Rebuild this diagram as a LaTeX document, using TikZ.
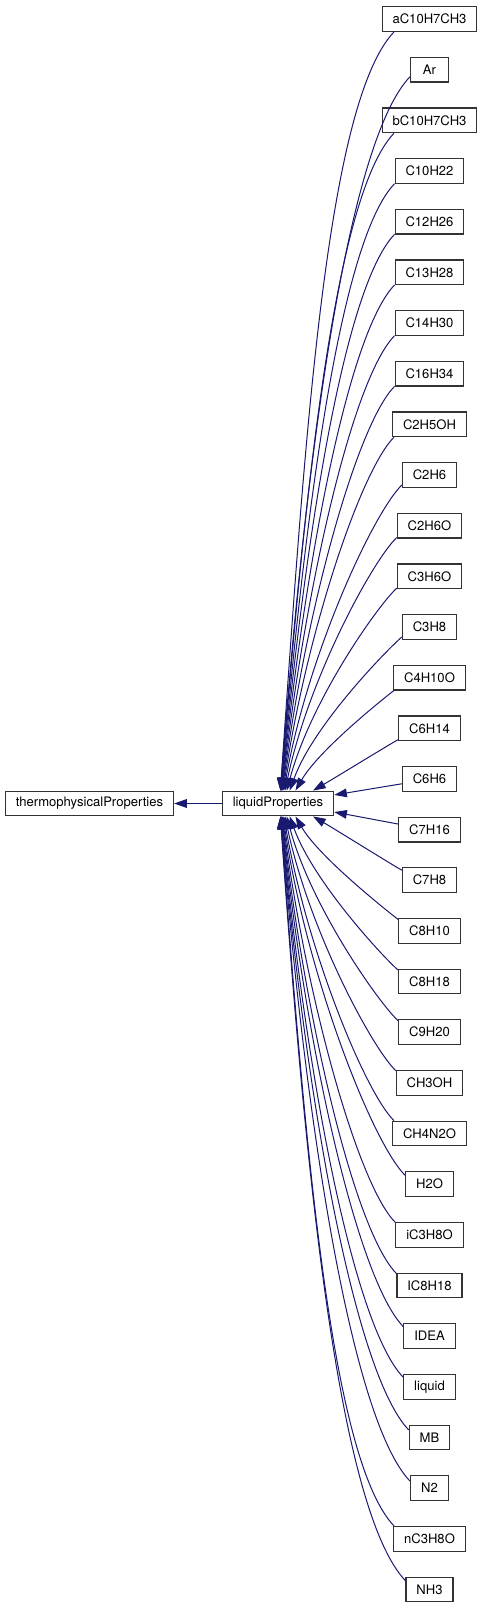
\documentclass[tikz,border=0pt]{standalone}
\usepackage{fontspec}
\setmainfont{TeX Gyre Heros}
\usetikzlibrary{arrows.meta}
\definecolor{edgeblue}{RGB}{25,25,112}
\begin{document}
\begin{tikzpicture}[x=0.75pt,y=0.75pt,yscale=-1,xscale=1,
  cls/.style={draw=black!80,line width=0.9pt,fill=white,font=\fontsize{9.8}{12}\selectfont,
    inner xsep=7.8pt,inner ysep=0pt,minimum height=18.5pt,minimum width=28.5pt},
  edge/.style={draw=edgeblue,line width=0.75pt,-{Triangle[length=9.5pt,width=6.5pt]}}]
\useasboundingbox (0,0) rectangle (484,1608);
% base and middle class
\node[cls] (tp) at (89.5,803.5) {thermophysicalProperties};
\node[cls] (lp) at (278,803.5) {liquidProperties};
\draw[edge] (lp.west) -- (tp.east);
% derived classes
\foreach \nm [count=\i from 0] in {aC10H7CH3,Ar,bC10H7CH3,C10H22,C12H26,C13H28,C14H30,C16H34,
  C2H5OH,C2H6,C2H6O,C3H6O,C3H8,C4H10O,C6H14,C6H6,C7H16,C7H8,C8H10,C8H18,C9H20,CH3OH,
  CH4N2O,H2O,iC3H8O,IC8H18,IDEA,liquid,MB,N2,nC3H8O,NH3}
  \node[cls] (n\i) at (429.5,{19+50.66*\i}) {\nm};
% edges from above
\foreach \i in {0,...,14} {
  \pgfmathsetmacro\kk{15-\i}
  \pgfmathsetmacro\aout{48-21/\kk}
  \pgfmathsetmacro\ain{90-60/\kk}
  \pgfmathsetmacro\la{6.6*\kk}
  \pgfmathsetmacro\lb{23.3*\kk}
  \pgfmathsetmacro\dx{0.75*35/\kk}
  \draw[edge] (n\i.200) .. controls +({-\la*cos(\aout)},{\la*sin(\aout)})
    and +({\lb*cos(\ain)},{-\lb*sin(\ain)}) .. ([xshift=\dx pt]lp.north);
}
% edges from below
\foreach \i in {17,...,31} {
  \pgfmathsetmacro\kk{\i-16}
  \pgfmathsetmacro\aout{48-21/\kk}
  \pgfmathsetmacro\ain{90-60/\kk}
  \pgfmathsetmacro\la{6.6*\kk}
  \pgfmathsetmacro\lb{23.3*\kk}
  \pgfmathsetmacro\dx{0.75*35/\kk}
  \draw[edge] (n\i.160) .. controls +({-\la*cos(\aout)},{-\la*sin(\aout)})
    and +({\lb*cos(\ain)},{\lb*sin(\ain)}) .. ([xshift=\dx pt]lp.south);
}
\draw[edge] (n15.190) -- ([yshift=-6.4pt]lp.east);
\draw[edge] (n16.170) -- ([yshift=6.4pt]lp.east);
\end{tikzpicture}
\end{document}
